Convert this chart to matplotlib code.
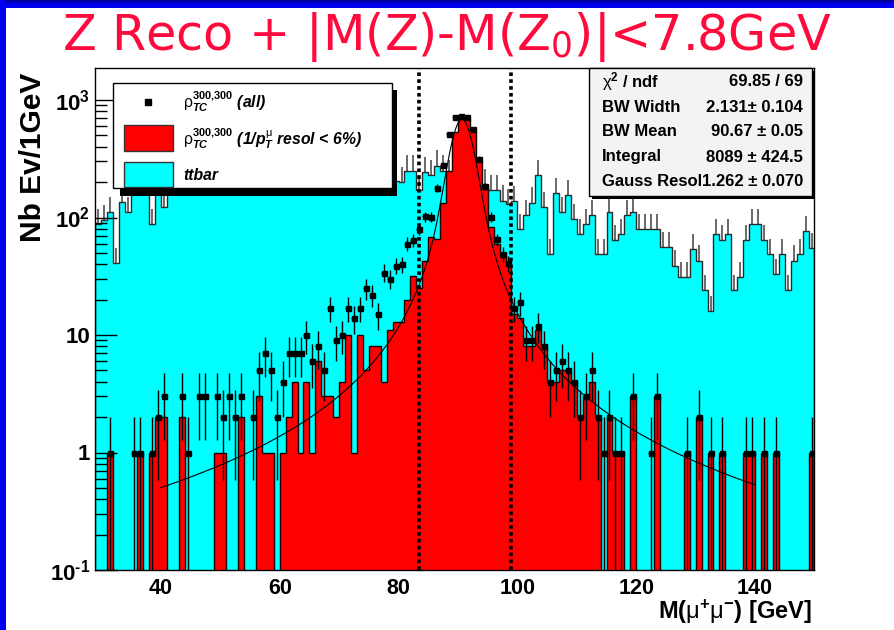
import numpy as np
import matplotlib
matplotlib.use("Agg")
import matplotlib.pyplot as plt
from matplotlib.patches import Rectangle
from matplotlib.lines import Line2D
from matplotlib.ticker import FixedLocator, FixedFormatter, NullFormatter

plt.rcParams['font.family'] = ['Liberation Sans', 'DejaVu Sans']
plt.rcParams['mathtext.fontset'] = 'custom'
plt.rcParams['mathtext.rm'] = 'Liberation Sans:bold'
plt.rcParams['mathtext.it'] = 'Liberation Sans:bold:italic'
plt.rcParams['mathtext.bf'] = 'Liberation Sans:bold'
plt.rcParams['mathtext.sf'] = 'Liberation Sans'

# 1 GeV bins, 29 -> 150 GeV
edges = np.arange(29, 151)

ttbar = [88, 95, 111, 41, 135, 111, 175, 180, 165, 88,
         170, 122, 185, 170, 200, 175, 160, 190, 210, 180,
         165, 195, 220, 175, 185, 160, 200, 215, 170, 190,
         180, 200, 165, 185, 210, 175, 190, 160, 200, 180,
         170, 195, 185, 165, 205, 180, 175, 195, 170, 185,
         206, 199, 251, 251, 170, 244, 228, 276, 251, 230,
         210, 190, 220, 200, 180, 190, 170, 170, 139, 130,
         138, 80, 104, 134, 228, 122, 49, 161, 111, 154,
         97, 72, 88, 104, 49, 49, 111, 64, 72, 104,
         111, 80, 80, 80, 80, 56, 56, 39, 31, 31,
         54, 43, 24, 16, 72, 64, 72, 24, 31, 64,
         88, 88, 64, 49, 33, 49, 24, 43, 49, 77,
         55]

resol_cut = [0, 0, 1, 0, 0, 0, 0, 1, 0, 1,
             2, 2, 0, 0, 2, 0, 0, 0, 0, 0,
             1, 1, 0, 0, 2, 0, 0, 3, 1, 1,
             0, 1, 2, 4, 1, 4, 1, 6, 3, 3,
             2, 4, 10, 1, 10, 5, 8, 8, 4, 11,
             13, 13, 20, 32, 25, 43, 68, 66, 134, 250,
             530, 700, 690, 550, 305, 175, 83, 60, 46, 40,
             15, 14, 8, 8, 11, 8, 4, 4, 5, 5,
             4, 2, 3, 4, 2, 0, 2, 1, 1, 0,
             3, 0, 0, 0, 3, 0, 0, 0, 0, 1,
             0, 2, 0, 1, 0, 1, 0, 0, 0, 1,
             1, 0, 1, 0, 1, 0, 0, 0, 0, 0,
             1]

all_events = [0, 0, 1, 0, 0, 0, 1, 1, 0, 1,
              2, 3, 0, 0, 3, 1, 0, 3, 3, 0,
              3, 2, 3, 2, 3, 0, 2, 5, 7, 5,
              2, 4, 7, 7, 7, 10, 6, 8, 5, 17,
              9, 10, 17, 14, 17, 25, 22, 15, 34, 30,
              39, 40, 60, 64, 80, 102, 101, 178, 281, 515,
              714, 724, 714, 568, 316, 184, 101, 65, 49, 41,
              17, 19, 9, 9, 12, 8, 4, 5, 6, 5,
              4, 2, 3, 5, 2, 1, 2, 1, 1, 0,
              3, 0, 0, 1, 3, 0, 0, 0, 0, 1,
              0, 2, 0, 1, 0, 1, 0, 0, 0, 1,
              1, 0, 1, 0, 1, 0, 0, 0, 0, 0,
              1]

ttbar_rel_err = 0.35

# fit results (BW (x) Gauss)
fit_chi2, fit_ndf = 69.85, 69
bw_width, bw_width_err = 2.131, 0.104
bw_mean, bw_mean_err = 90.67, 0.05
fit_integral, fit_integral_err = 8089, 424.5
gauss_resol, gauss_resol_err = 1.262, 0.070
fit_range = (40, 140)

mz0 = 91.19
mass_window = 7.8

ttbar = np.array(ttbar, float)
resol_cut = np.array(resol_cut, float)
all_events = np.array(all_events, float)
centers = 0.5 * (edges[:-1] + edges[1:])

W, H = 895, 630


def fx(px):
    return px / W


def fy(py):
    return 1 - py / H


fig = plt.figure(figsize=(W / 100, H / 100), dpi=100)

# slide decoration
fig.add_artist(Rectangle((0, fy(8)), 1, 8 / H, transform=fig.transFigure,
                         facecolor='#0000f0', edgecolor='none'))
fig.add_artist(Rectangle((0, fy(3)), 1, 3 / H, transform=fig.transFigure,
                         facecolor='#0000a8', edgecolor='none'))
fig.add_artist(Rectangle((0, 0), 6 / W, 1, transform=fig.transFigure,
                         facecolor='#0000f0', edgecolor='none'))

fig.text(fx(447), fy(37), r'Z Reco + |M(Z)-M(Z$_{\mathregular{0}}$)|<7.8GeV',
         color='#ff0a3c', fontsize=35.5, family=['DejaVu Sans'],
         ha='center', va='center')

ax = fig.add_axes([fx(95.5), fy(570), (814.5 - 95.5) / W, (570 - 68) / H])
ax.set_yscale('log')
ax.set_xlim(29, 150)
ax.set_ylim(0.1, 10 ** (3 + 32 / 117.5))

floor = 1e-3
ax.stairs(ttbar, edges, baseline=floor, fill=True, facecolor='#00ffff',
          edgecolor='none', zorder=1)
ax.stairs(ttbar, edges, baseline=floor, color='#2a2a2a', lw=1, zorder=1.2)
ax.vlines(centers, ttbar, ttbar * (1 + ttbar_rel_err), color='#505050',
          lw=1.2, zorder=1.1)

red = np.where(resol_cut > 0, resol_cut, floor)
ax.stairs(red, edges, baseline=floor, fill=True, facecolor='#ff0000',
          edgecolor='none', zorder=2)
ax.stairs(red, edges, baseline=floor, color='#1a0000', lw=1, zorder=2.1)

m = all_events > 0
c, v = centers[m], all_events[m]
err = np.sqrt(v)
ax.vlines(c, np.maximum(v - err, 1e-2), v + err, color='black', lw=1, zorder=3)
ax.hlines(v, c - 0.5, c + 0.5, color='black', lw=1, zorder=3)
ax.plot(c, v, 's', color='black', ms=3.6, zorder=3.1)


# Breit-Wigner convolved with a Gaussian resolution
def bw_gauss(x, mean, width, sigma):
    t = np.linspace(-40, 40, 8001)
    dt = t[1] - t[0]
    g = np.exp(-0.5 * (t / sigma) ** 2) / (sigma * np.sqrt(2 * np.pi))
    bw = (width / (2 * np.pi)) / ((x[:, None] - mean - t) ** 2 + width ** 2 / 4)
    return (bw * g).sum(axis=1) * dt


xf = np.linspace(fit_range[0], fit_range[1], 600)
yf = fit_integral / bw_width * bw_gauss(xf, bw_mean, bw_width, gauss_resol)
ax.plot(xf, yf, color='black', lw=0.8, zorder=4)

for xc in (mz0 - mass_window, mz0 + mass_window):
    ax.axvline(xc, color='black', lw=2.6, ls=(0, (1.0, 0.9)), zorder=5)

# axes in ROOT style
for s in ax.spines.values():
    s.set_linewidth(1)
    s.set_zorder(6)
ax.yaxis.set_major_locator(FixedLocator([0.1, 1, 10, 100, 1000]))
ax.yaxis.set_major_formatter(FixedFormatter(
    [r'10$^{\text{-}1}$', '1', '10', '10$^{2}$', '10$^{3}$']))
minor = [k * 10.0 ** e for e in range(-1, 4) for k in range(2, 10)]
ax.yaxis.set_minor_locator(FixedLocator(minor))
ax.yaxis.set_minor_formatter(NullFormatter())
ax.tick_params(axis='y', which='major', direction='in', length=16, width=1,
               labelsize=16, pad=4, right=False)
ax.tick_params(axis='y', which='minor', direction='in', length=8.5, width=1, right=False)
ax.yaxis.set_zorder(5.5)
ax.xaxis.set_major_locator(FixedLocator([40, 60, 80, 100, 120, 140]))
ax.xaxis.set_minor_locator(FixedLocator([]))
ax.tick_params(axis='x', which='major', direction='in', length=0, labelsize=15.5, pad=6)
for lab in ax.get_xticklabels() + ax.get_yticklabels():
    lab.set_fontweight('bold')

fig.text(fx(812), fy(612), r'M($\mathsf{\mu}^{+}\mathsf{\mu}^{-}$) [GeV]',
         fontsize=17, weight='bold', ha='right', va='center')
fig.text(fx(33), fy(73), 'Nb Ev/1GeV', fontsize=21.5, weight='bold',
         rotation=90, ha='center', va='top')

# legend box
fig.add_artist(Rectangle((fx(120), fy(196)), (397 - 120) / W, (196 - 90) / H,
                         transform=fig.transFigure, facecolor='black',
                         edgecolor='none', zorder=10))
fig.add_artist(Rectangle((fx(113), fy(188)), (392 - 113) / W, (188 - 83) / H,
                         transform=fig.transFigure, facecolor='white',
                         edgecolor='black', lw=1, zorder=11))
fig.add_artist(Line2D([fx(148)], [fy(102)], marker='s', ms=3.8, color='black',
                      transform=fig.transFigure, zorder=12))
fig.add_artist(Rectangle((fx(124), fy(151)), 49 / W, 26 / H, transform=fig.transFigure,
                         facecolor='#ff0000', edgecolor='#333333', lw=1, zorder=12))
fig.add_artist(Rectangle((fx(124), fy(187)), 49 / W, 25 / H, transform=fig.transFigure,
                         facecolor='#00ffff', edgecolor='#333333', lw=1, zorder=12))
leg_kw = dict(fontsize=11.3, weight='bold', style='italic', ha='left', va='center', zorder=12)
fig.text(fx(183), fy(102), r'$\mathsf{\rho}^{300{,}300}_{TC}$ (all)', **leg_kw)
fig.text(fx(183), fy(139),
         r'$\mathsf{\rho}^{300{,}300}_{TC}$ (1/$p^{\mathsf{\mu}}_{T}$ resol < 6%)', **leg_kw)
fig.text(fx(183), fy(176), 'ttbar', **leg_kw)

# fit statistics box
fig.add_artist(Rectangle((fx(591.5), fy(198.5)), (814 - 591.5) / W, (198.5 - 70.5) / H,
                         transform=fig.transFigure, facecolor='black',
                         edgecolor='none', zorder=10))
fig.add_artist(Rectangle((fx(589), fy(196)), (812 - 589) / W, (196 - 68) / H,
                         transform=fig.transFigure, facecolor='#f5f2f5',
                         edgecolor='black', lw=1, zorder=11))
rows = [
    (r'$\mathsf{\chi}^{2}$ / ndf', f'{fit_chi2:.2f} / {fit_ndf}'),
    ('BW Width', f'{bw_width:.3f}\u00b1 {bw_width_err:.3f}'),
    ('BW Mean', f'{bw_mean:.2f} \u00b1 {bw_mean_err:.2f}'),
    ('Integral', f'{fit_integral} \u00b1 {fit_integral_err:.1f}'),
    ('Gauss Resol', f'{gauss_resol:.3f} \u00b1 {gauss_resol_err:.3f}'),
]
for i, (name, val) in enumerate(rows):
    yy = fy(82 + 25 * i)
    fig.text(fx(602), yy, name, fontsize=12, weight='bold', ha='left', va='center', zorder=12)
    fig.text(fx(803), yy, val, fontsize=12, weight='bold', ha='right', va='center', zorder=12)

fig.savefig('out.png', dpi=100)
